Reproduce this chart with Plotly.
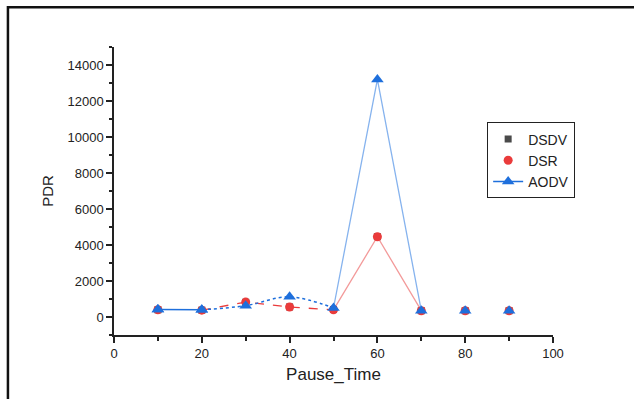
import plotly.graph_objects as go

# Pause time (s) on the x axis
pause_time = [10, 20, 30, 40, 50, 60, 70, 80, 90]

# PDR per routing protocol
dsdv = [400, 380, 820, 560, 420, 4460, 350, 350, 350]
dsr = [400, 380, 830, 555, 400, 4460, 350, 350, 350]
aodv = [410, 400, 630, 1120, 500, 13200, 350, 350, 350]

FONT = "Liberation Sans, Arial, sans-serif"
BLUE = "#1e6fdc"
RED = "#ea3b3b"
LIGHT_BLUE = "#86b3ee"
LIGHT_RED = "#f39a9a"

fig = go.Figure()

# DSDV: squares only
fig.add_trace(go.Scatter(
    x=pause_time, y=dsdv, mode="markers", name="DSDV",
    marker=dict(symbol="square", size=7, color="#4a4a4a"),
))

# DSR connecting segments
fig.add_trace(go.Scatter(
    x=pause_time[1:5], y=dsr[1:5], mode="lines", showlegend=False,
    line=dict(color=RED, width=1.3, dash="dash"),
))
fig.add_trace(go.Scatter(
    x=pause_time[4:7], y=dsr[4:7], mode="lines", showlegend=False,
    line=dict(color=LIGHT_RED, width=1.3),
))
# DSR: circles
fig.add_trace(go.Scatter(
    x=pause_time, y=dsr, mode="markers", name="DSR",
    marker=dict(symbol="circle", size=9, color=RED),
))

# AODV connecting segments
fig.add_trace(go.Scatter(
    x=pause_time[1:5], y=aodv[1:5], mode="lines", showlegend=False,
    line=dict(color=BLUE, width=1.5, dash="dot", shape="spline"),
))
fig.add_trace(go.Scatter(
    x=pause_time[4:7], y=aodv[4:7], mode="lines", showlegend=False,
    line=dict(color=LIGHT_BLUE, width=1.3),
))
# AODV legend entry with the solid first segment
fig.add_trace(go.Scatter(
    x=pause_time[0:2], y=aodv[0:2], mode="lines+markers", name="AODV",
    line=dict(color=BLUE, width=1.5),
    marker=dict(symbol="triangle-up", size=11, color=BLUE),
))
# AODV: triangles at every point
fig.add_trace(go.Scatter(
    x=pause_time, y=aodv, mode="markers", showlegend=False,
    marker=dict(symbol="triangle-up", size=11, color=BLUE),
))

axis_common = dict(
    showline=True, linecolor="#222", linewidth=1.5,
    ticks="outside", tickcolor="#222", tickwidth=1.5, ticklen=6,
    showgrid=False, zeroline=False, mirror=False,
    tickformat="d",
    tickfont=dict(family=FONT, size=13, color="#222"),
)

fig.update_xaxes(
    range=[0, 100], tick0=0, dtick=20,
    minor=dict(ticks="outside", dtick=10, ticklen=4, tickcolor="#222", tickwidth=1.5),
    title=dict(text="Pause_Time", font=dict(family=FONT, size=17, color="#222"), standoff=8),
    **axis_common,
)
fig.update_yaxes(
    range=[-1000, 15000], tick0=0, dtick=2000,
    minor=dict(ticks="outside", dtick=1000, ticklen=3, tickcolor="#222", tickwidth=1.5),
    title=dict(text="PDR", font=dict(family=FONT, size=15, color="#222"), standoff=10),
    **axis_common,
)

fig.update_layout(
    width=634, height=399,
    margin=dict(l=114, r=81, t=47, b=64, autoexpand=False),
    paper_bgcolor="white", plot_bgcolor="white",
    showlegend=True,
    legend=dict(
        x=0.850, y=0.738, xanchor="left", yanchor="top",
        bordercolor="#222", borderwidth=1, bgcolor="white",
        font=dict(family=FONT, size=14, color="#222"),
        tracegroupgap=0, itemsizing="trace",
    ),
    shapes=[dict(
        type="rect", xref="paper", yref="paper",
        x0=-0.2416, x1=1.5, y0=-0.6, y1=1.1377,
        line=dict(color="#111", width=2.5), layer="above",
    )],
)

fig.write_html("out.html")
